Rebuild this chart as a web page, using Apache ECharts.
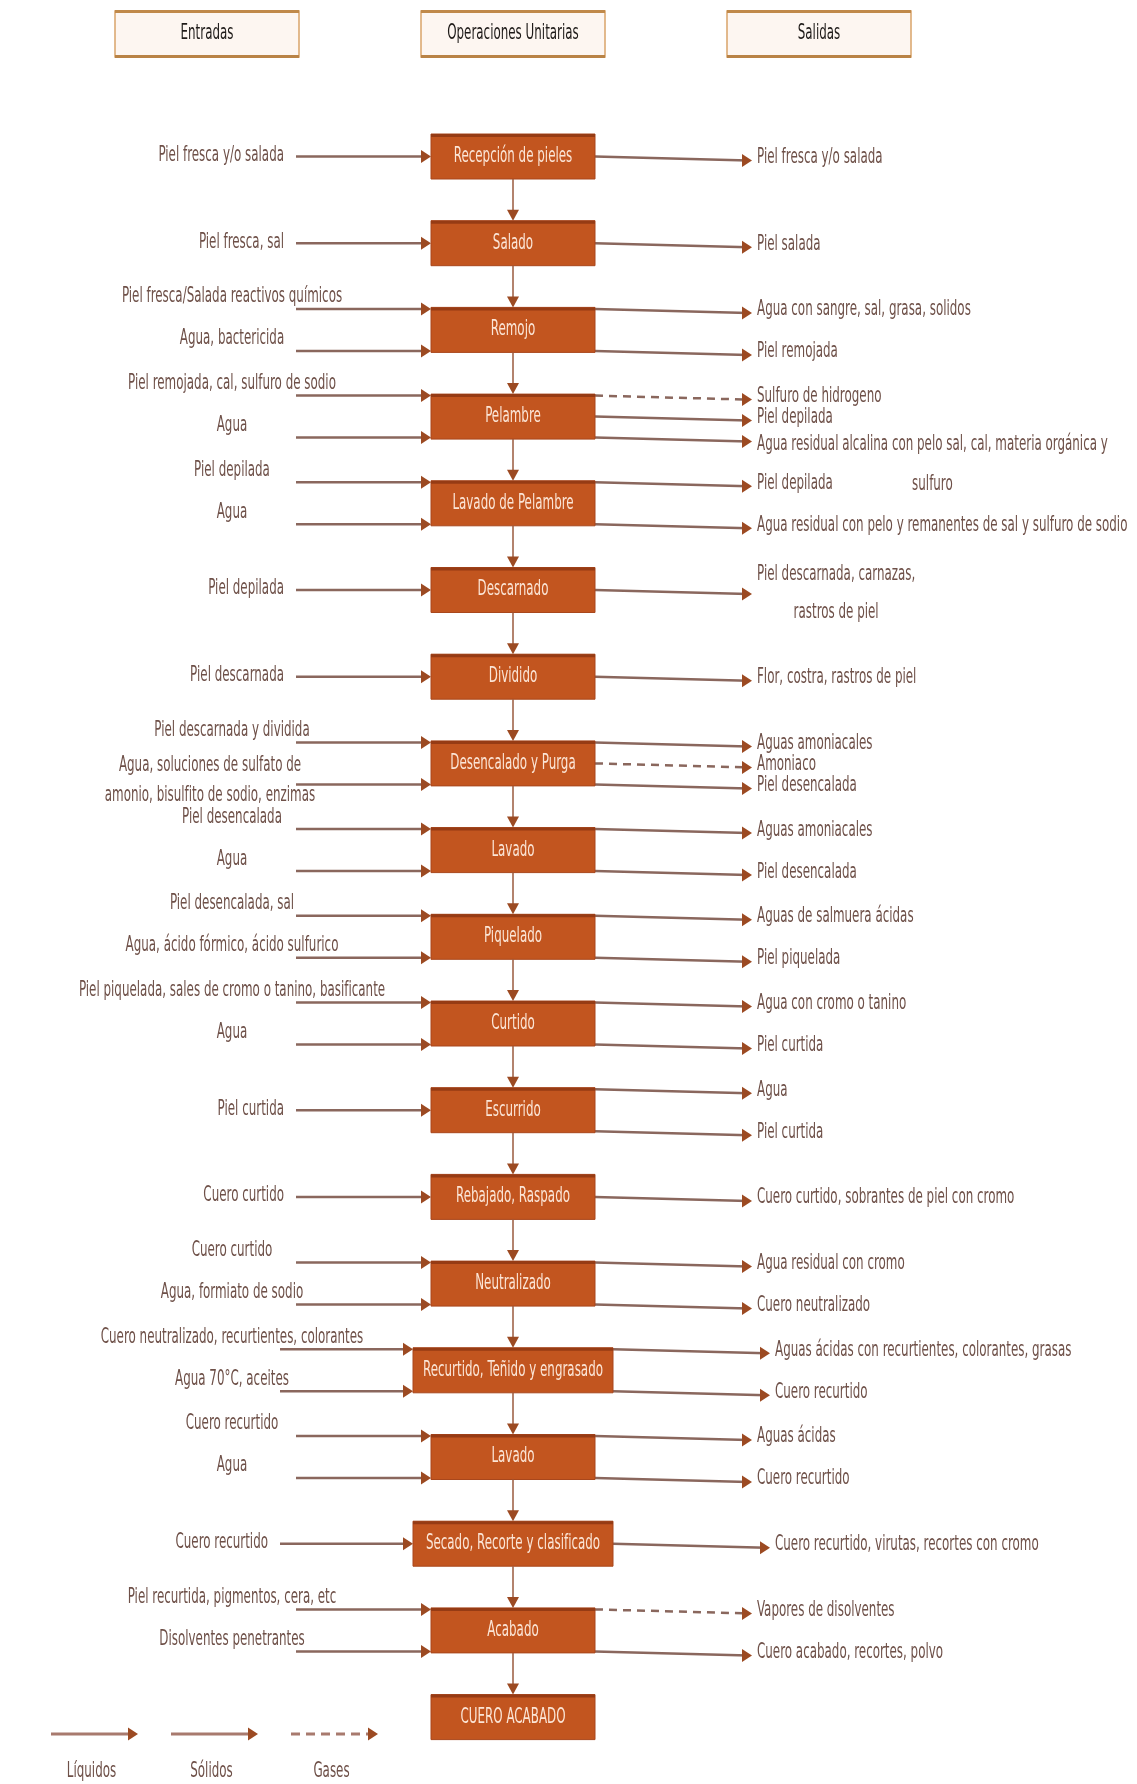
<!DOCTYPE html>
<html lang="es">
<head>
<meta charset="UTF-8">
<title>Diagrama de flujo - curtido de pieles</title>
<script src="https://cdn.jsdelivr.net/npm/echarts@6/dist/echarts.min.js"></script>
<style>
    html, body { margin: 0; padding: 0; background: #fff; }
    #main { width: 1137px; height: 1784px; }
</style>
</head>
<body>
<div id="main"></div>
<script>
    // cabeceras de columna
    const columnTitles = ['Entradas', 'Operaciones Unitarias', 'Salidas'];

    // operaciones unitarias, en orden
    const steps = [
        'Recepción de pieles', 'Salado', 'Remojo', 'Pelambre', 'Lavado de Pelambre',
        'Descarnado', 'Dividido', 'Desencalado y Purga', 'Lavado', 'Piquelado',
        'Curtido', 'Escurrido', 'Rebajado, Raspado', 'Neutralizado',
        'Recurtido, Teñido y engrasado', 'Lavado', 'Secado, Recorte y clasificado',
        'Acabado', 'CUERO ACABADO'
    ];

    // entradas de cada operación
    const inputs = [
        ['Piel fresca y/o salada'],
        ['Piel fresca, sal'],
        ['Piel fresca/Salada reactivos químicos', 'Agua, bactericida'],
        ['Piel remojada, cal, sulfuro de sodio', 'Agua'],
        ['Piel depilada', 'Agua'],
        ['Piel depilada'],
        ['Piel descarnada'],
        ['Piel descarnada y dividida', 'Agua, soluciones de sulfato de\namonio, bisulfito de sodio, enzimas'],
        ['Piel desencalada', 'Agua'],
        ['Piel desencalada, sal', 'Agua, ácido fórmico, ácido sulfurico'],
        ['Piel piquelada, sales de cromo o tanino, basificante', 'Agua'],
        ['Piel curtida'],
        ['Cuero curtido'],
        ['Cuero curtido', 'Agua, formiato de sodio'],
        ['Cuero neutralizado, recurtientes, colorantes', 'Agua 70°C, aceites'],
        ['Cuero recurtido', 'Agua'],
        ['Cuero recurtido'],
        ['Piel recurtida, pigmentos, cera, etc', 'Disolventes penetrantes'],
        []
    ];

    // salidas de cada operación
    const outputs = [
        ['Piel fresca y/o salada'],
        ['Piel salada'],
        ['Agua con sangre, sal, grasa, solidos', 'Piel remojada'],
        ['Sulfuro de hidrogeno', 'Piel depilada', 'Agua residual alcalina con pelo sal, cal, materia orgánica y\nsulfuro'],
        ['Piel depilada', 'Agua residual con pelo y remanentes de sal y sulfuro de sodio'],
        ['Piel descarnada, carnazas,\nrastros de piel'],
        ['Flor, costra, rastros de piel'],
        ['Aguas amoniacales', 'Amoniaco', 'Piel desencalada'],
        ['Aguas amoniacales', 'Piel desencalada'],
        ['Aguas de salmuera ácidas', 'Piel piquelada'],
        ['Agua con cromo o tanino', 'Piel curtida'],
        ['Agua', 'Piel curtida'],
        ['Cuero curtido, sobrantes de piel con cromo'],
        ['Agua residual con cromo', 'Cuero neutralizado'],
        ['Aguas ácidas con recurtientes, colorantes, grasas', 'Cuero recurtido'],
        ['Aguas ácidas', 'Cuero recurtido'],
        ['Cuero recurtido, virutas, recortes con cromo'],
        ['Vapores de disolventes', 'Cuero acabado, recortes, polvo'],
        []
    ];

    // salidas gaseosas (línea discontinua)
    const gasFlows = ['Sulfuro de hidrogeno', 'Amoniaco', 'Vapores de disolventes'];

    const legendItems = ['Líquidos', 'Sólidos', 'Gases'];

    // estilo y maquetación
    const FONT = '"Liberation Sans Narrow", "DejaVu Sans Condensed", "Arial Narrow", sans-serif';
    const FS = 21, SX = 0.63;
    const textColor = '#6e5048';
    const lineColor = '#8a675d';
    const headColor = '#9c4a22';
    const boxColor = '#c2551f';
    const midX = 513, boxW = 164, wideW = 200, boxH = 45, spread = 21;
    const rowTop = 156.5, rowGap = 86.7;

    const ctx = document.createElement('canvas').getContext('2d');
    function textWidth(s) {
        ctx.font = FS + 'px ' + FONT;
        return Math.max.apply(null, s.split('\n').map(l => ctx.measureText(l).width)) * SX;
    }

    function label(text, x, y, align, fill, lh) {
        return {
            type: 'text', x: x, y: y, scaleX: SX,
            style: {
                text: text, x: 0, y: 0, align: align, verticalAlign: 'middle',
                fill: fill, font: FS + 'px ' + FONT, lineHeight: lh || FS + 3
            }
        };
    }

    function arrowRight(tx, y) {
        return { type: 'polygon', shape: { points: [[tx, y], [tx - 10, y - 6.5], [tx - 10, y + 6.5]] }, style: { fill: headColor } };
    }

    function isWide(i) { return steps[i].length > 22; }

    // lista plana de flujos
    const flows = [];
    steps.forEach((s, i) => {
        [['in', inputs[i]], ['out', outputs[i]]].forEach(([side, list]) => {
            list.forEach((text, j) => {
                flows.push({
                    step: i, side: side, text: text,
                    slot: list.length === 1 ? 0 : j / (list.length - 1) * 2 - 1,
                    single: list.length === 1,
                    gas: gasFlows.indexOf(text) >= 0
                });
            });
        });
    });

    function renderFlow(params, api) {
        const f = flows[params.dataIndex];
        const c = api.coord([api.value(0), api.value(1)]);
        const w = isWide(f.step) ? wideW : boxW;
        const y = c[1] + f.slot * spread;
        const multiLine = f.text.indexOf('\n') >= 0;
        const children = [];
        if (f.side === 'in') {
            const x1 = api.coord([isWide(f.step) ? 280 : 296, 0])[0];
            const tip = c[0] - w / 2;
            children.push({ type: 'line', shape: { x1: x1, y1: y, x2: tip - 4, y2: y }, style: { stroke: lineColor, lineWidth: 2.5 } });
            children.push(arrowRight(tip, y));
            if (multiLine) {
                // la flecha pasa entre las dos líneas del texto
                children.push(label(f.text, 210, y - 4, 'center', textColor, 30));
            } else if (f.single) {
                children.push(label(f.text, x1 - 12, y - 1, 'right', textColor));
            } else {
                children.push(label(f.text, 232, y - 12, 'center', textColor));
            }
        } else {
            const x1 = c[0] + w / 2;
            const tip = x1 + 157;
            const y2 = y + 4;
            children.push({
                type: 'line', shape: { x1: x1, y1: y, x2: tip - 4, y2: y2 },
                style: { stroke: lineColor, lineWidth: 2.5, lineDash: f.gas ? [8, 6] : null }
            });
            children.push(arrowRight(tip, y2));
            if (multiLine) {
                const bw = textWidth(f.text);
                // con una sola salida el bloque va centrado en la flecha; si no, cuelga debajo
                const cy = f.single ? y2 : y2 + 3 + 20;
                children.push(label(f.text, tip + 5 + bw / 2, cy, 'center', textColor, f.single ? 38 : 40));
            } else {
                children.push(label(f.text, tip + 5, y2 - 3, 'left', textColor));
            }
        }
        return { type: 'group', children: children };
    }

    function renderStep(params, api) {
        const i = params.dataIndex;
        const c = api.coord([api.value(0), api.value(1)]);
        const w = isWide(i) ? wideW : boxW;
        const top = c[1] - boxH / 2;
        const children = [
            { type: 'rect', shape: { x: c[0] - w / 2, y: top, width: w, height: boxH }, style: { fill: boxColor, stroke: '#a9471c', lineWidth: 1 } },
            { type: 'rect', shape: { x: c[0] - w / 2, y: top, width: w, height: 3 }, style: { fill: '#963b14' } },
            label(steps[i], c[0], c[1], 'center', '#fbe5d6')
        ];
        if (i < steps.length - 1) {
            const n = api.coord([midX, i + 1]);
            const tipY = n[1] - boxH / 2;
            children.push({ type: 'line', shape: { x1: c[0], y1: c[1] + boxH / 2, x2: c[0], y2: tipY - 4 }, style: { stroke: '#9a5a3e', lineWidth: 1.5 } });
            children.push({ type: 'polygon', shape: { points: [[c[0], tipY], [c[0] - 6, tipY - 11], [c[0] + 6, tipY - 11]] }, style: { fill: headColor } });
        }
        return { type: 'group', children: children };
    }

    // cabeceras y leyenda (decoración fija)
    const graphics = [];
    columnTitles.forEach((t, k) => {
        const cx = midX + (k - 1) * 306;
        graphics.push({
            type: 'group', children: [
                { type: 'rect', shape: { x: cx - 92, y: 11, width: 184, height: 46 }, style: { fill: '#fdf6f1', stroke: '#d9a46a', lineWidth: 1.5 } },
                { type: 'rect', shape: { x: cx - 92, y: 10, width: 184, height: 3 }, style: { fill: '#c0894a' } },
                { type: 'rect', shape: { x: cx - 92, y: 55, width: 184, height: 3 }, style: { fill: '#b98346' } },
                label(t, cx, 34, 'center', '#1e1a18')
            ]
        });
    });
    legendItems.forEach((t, k) => {
        const x0 = 51 + k * 120, x1 = x0 + 87, y = 1734;
        graphics.push({
            type: 'group', children: [
                { type: 'line', shape: { x1: x0, y1: y, x2: x1 - 4, y2: y }, style: { stroke: '#a87a6e', lineWidth: 3, lineDash: t === 'Gases' ? [9, 6] : null } },
                arrowRight(x1, y),
                label(t, (x0 + x1) / 2 - 3, 1772, 'center', textColor)
            ]
        });
    });

    const chart = echarts.init(document.getElementById('main'));
    chart.setOption({
        animation: false,
        backgroundColor: '#ffffff',
        grid: { left: 0, right: 0, top: 0, bottom: 0 },
        xAxis: { type: 'value', min: 0, max: 1137, show: false },
        yAxis: { type: 'value', min: -rowTop / rowGap, max: (1784 - rowTop) / rowGap, inverse: true, show: false },
        graphic: graphics,
        series: [
            { name: 'flujos', type: 'custom', renderItem: renderFlow, data: flows.map(f => [midX, f.step]) },
            { name: 'operaciones', type: 'custom', renderItem: renderStep, data: steps.map((s, i) => [midX, i]) }
        ]
    });
</script>
</body>
</html>
